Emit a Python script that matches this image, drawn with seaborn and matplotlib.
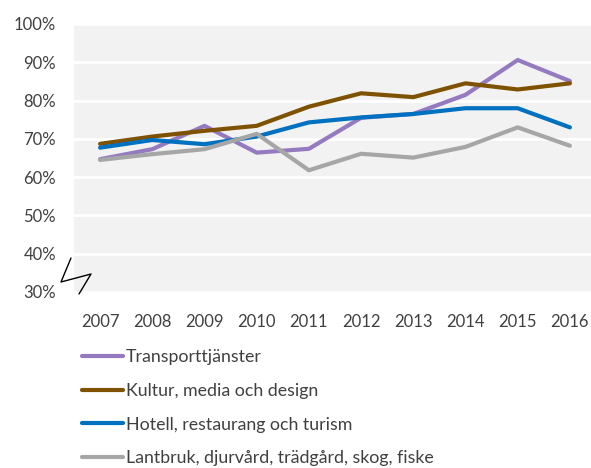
import matplotlib
matplotlib.use("Agg")
import matplotlib.pyplot as plt
import seaborn as sns
import pandas as pd

years = [2007, 2008, 2009, 2010, 2011, 2012, 2013, 2014, 2015, 2016]
series_names = ["Transporttjänster", "Kultur, media och design",
                "Hotell, restaurang och turism",
                "Lantbruk, djurvård, trädgård, skog, fiske"]
transport = [64.7, 67.3, 73.4, 66.4, 67.4, 75.5, 76.5, 81.5, 90.6, 85.1]
kultur = [68.7, 70.6, 72.1, 73.4, 78.4, 81.9, 80.9, 84.5, 82.9, 84.5]
hotell = [67.7, 69.7, 68.6, 70.6, 74.3, 75.6, 76.5, 78.0, 78.0, 73.0]
lantbruk = [64.5, 66.0, 67.3, 71.3, 61.8, 66.1, 65.1, 67.9, 73.0, 68.2]
colors = ["#957AC0", "#7F5200", "#0070C0", "#A6A6A6"]
ytick_vals = [30, 40, 50, 60, 70, 80, 90, 100]

rows = []
for name, vals in zip(series_names, [transport, kultur, hotell, lantbruk]):
    for y, v in zip(years, vals):
        rows.append({"year": y, "value": v, "series": name})
df = pd.DataFrame(rows)

sns.set_theme(style="white")
plt.rcParams["font.family"] = ["Lato", "DejaVu Sans"]

fig = plt.figure(figsize=(5.91, 4.68), dpi=100)
W, H = 591, 468
ax = fig.add_axes([74 / W, 1 - 292 / H, (596 - 74) / W, 268 / H])
ax.set_facecolor("#F2F2F2")

sns.lineplot(data=df, x="year", y="value", hue="series", hue_order=series_names,
             palette=colors, linewidth=3.0, ax=ax, legend=True, zorder=3)

ax.set_xlim(2006.5, 2016.5)
ax.set_ylim(30, 100)
ax.set_yticks(ytick_vals)
ax.set_yticklabels([f"{v}%" for v in ytick_vals])
ax.set_xticks(years)
ax.set_xticklabels([str(y) for y in years])
ax.grid(axis="y", color="white", linewidth=2)
ax.set_axisbelow(True)
for s in ax.spines.values():
    s.set_visible(False)
ax.tick_params(axis="y", length=0, pad=13, labelsize=12, labelcolor="#404040")
ax.tick_params(axis="x", length=0, pad=16, labelsize=12, labelcolor="#404040")
ax.set_xlabel("")
ax.set_ylabel("")

# axis break symbol
bx = [71, 61, 91, 79]
by = [258, 282, 274, 294]
fig.add_artist(plt.Line2D([x / W for x in bx], [1 - y / H for y in by],
                          color="black", linewidth=1.0))

handles, labels = ax.get_legend_handles_labels()
ax.legend_.remove()
fig.legend(handles, labels, loc="upper left", bbox_to_anchor=(82 / W, 1 - 349 / H),
           frameon=False, fontsize=12.8, handlelength=2.3, handletextpad=0.15,
           labelspacing=1.0, labelcolor="#404040", borderaxespad=0, borderpad=0)

fig.savefig("out.png", dpi=100)
